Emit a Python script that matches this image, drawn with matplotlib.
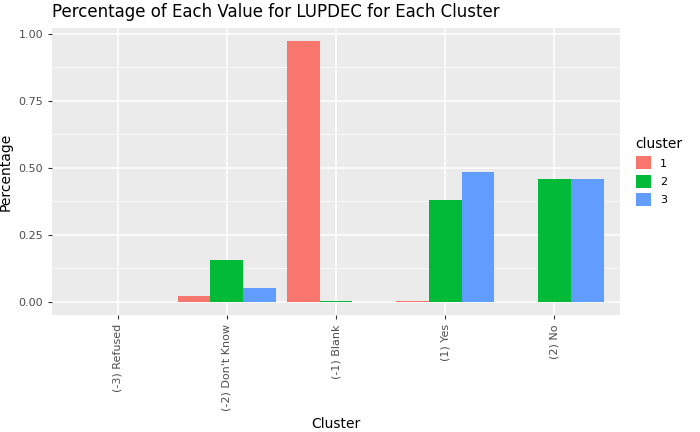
import numpy as np
import matplotlib.pyplot as plt

categories = ['(-3) Refused', "(-2) Don't Know", '(-1) Blank', '(1) Yes', '(2) No']
clusters = ['1', '2', '3']
values = {
    '1': [0.0, 0.023, 0.973, 0.002, 0.0],
    '2': [0.0, 0.155, 0.004, 0.38, 0.46],
    '3': [0.0, 0.053, 0.0, 0.485, 0.46],
}
colors = ['#F8766D', '#00BA38', '#619CFF']

fig = plt.figure(figsize=(7, 4.32), dpi=100)
ax = fig.add_axes([52/700, 1 - 315/432, (620-52)/700, (315-28)/432])
ax.set_facecolor('#EBEBEB')
x = np.arange(len(categories))
w = 0.3
for i, c in enumerate(clusters):
    ax.bar(x + (i - 1) * w, values[c], width=w, color=colors[i], label=c, zorder=3)

ax.set_xlim(-0.6, len(categories) - 0.4)
ax.set_ylim(-0.0487, 1.0217)
ax.set_yticks([0, 0.25, 0.5, 0.75, 1.0])
ax.set_yticklabels(['0.00', '0.25', '0.50', '0.75', '1.00'])
ax.set_yticks([0.125, 0.375, 0.625, 0.875], minor=True)
ax.set_xticks(x)
ax.set_xticklabels(categories, rotation=90)
ax.grid(which='major', color='white', linewidth=1.1, zorder=0)
ax.grid(which='minor', axis='y', color='white', linewidth=0.5, zorder=0)
ax.tick_params(which='minor', length=0)
ax.tick_params(which='major', color='#333333', length=3, labelsize=8, labelcolor='#4D4D4D')
for s in ax.spines.values():
    s.set_visible(False)
ax.set_xlabel('Cluster', fontsize=10)
ax.set_ylabel('Percentage', fontsize=10)
ax.set_title('Percentage of Each Value for LUPDEC for Each Cluster', fontsize=12, loc='left', x=0.0, pad=8)
ax.title.set_position((-0.015, 1))
leg = ax.legend(title='cluster', loc='center left', bbox_to_anchor=(1.01, 0.5), frameon=False,
                fontsize=8, title_fontsize=10, handlelength=1.4, handleheight=1.4, alignment='left')
fig.savefig('out.png', dpi=100)
